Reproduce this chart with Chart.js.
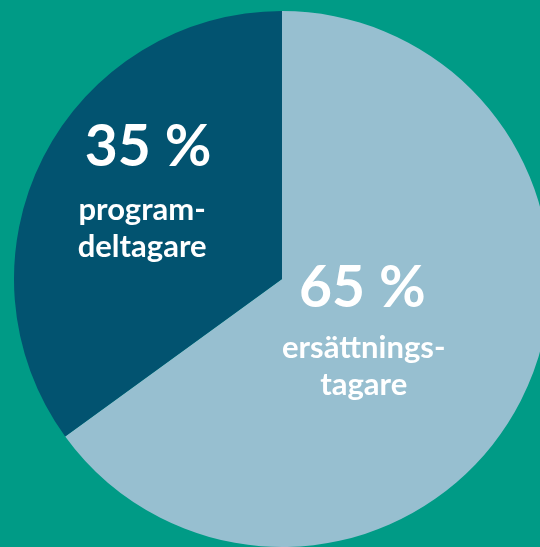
<!DOCTYPE html>
<html>
<head>
<meta charset="utf-8">
<script src="https://cdn.jsdelivr.net/npm/chart.js@4"></script>
<style>
  html, body { margin: 0; padding: 0; background: #009b86; overflow: hidden; }
  #wrap { position: absolute; left: 0; top: 0; width: 564px; height: 558px; }
</style>
</head>
<body>
<div id="wrap"><canvas id="andelar"></canvas></div>
<script>
// andel av deltagarna
const categories = ['ersättningstagare', 'programdeltagare'];
const values = [65, 35];
const percentLabels = ['65 %', '35 %'];
const textLines = [['ersättnings-', 'tagare'], ['program-', 'deltagare']];

const colors = ['#97bfd0', '#025370'];

// label placement, relative to pie centre in units of radius
const labelPos = [
  { x: 0.30, y: 0.105, textX: 0.305, lines: [0.295, 0.433] },
  { x: -0.50, y: -0.42, textX: -0.522, lines: [-0.22, -0.082] }
];

const pieLabels = {
  id: 'pieLabels',
  afterDatasetsDraw(chart) {
    const ctx = chart.ctx;
    const arc = chart.getDatasetMeta(0).data[0];
    const cx = arc.x, cy = arc.y, r = arc.outerRadius;
    ctx.save();
    ctx.fillStyle = '#ffffff';
    ctx.textAlign = 'center';
    ctx.textBaseline = 'alphabetic';
    values.forEach((v, i) => {
      const p = labelPos[i];
      ctx.font = 'bold 57px Lato';
      ctx.fillText(percentLabels[i], cx + p.x * r, cy + p.y * r);
      ctx.font = 'bold 31px Lato';
      textLines[i].forEach((t, j) => {
        ctx.fillText(t, cx + p.textX * r, cy + p.lines[j] * r);
      });
    });
    ctx.restore();
  }
};

let andelar = document.getElementById('andelar');

const dataAndelar = {
  labels: categories,
  datasets: [{
    data: values,
    backgroundColor: colors,
    borderWidth: 0
  }]
};

let andelarChart = new Chart(andelar, {
  type: 'pie',
  data: dataAndelar,
  options: {
    responsive: true,
    maintainAspectRatio: false,
    animation: false,
    layout: { padding: 11 },
    plugins: {
      legend: { display: false },
      tooltip: { enabled: false }
    }
  },
  plugins: [pieLabels]
});
</script>
</body>
</html>
